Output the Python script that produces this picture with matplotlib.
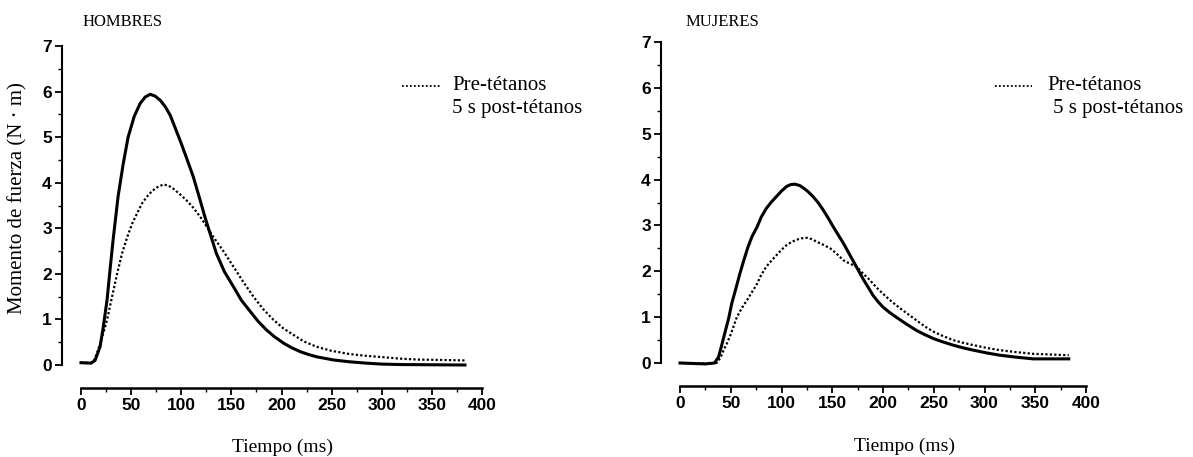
import matplotlib.pyplot as plt
from matplotlib.ticker import MultipleLocator

# HOMBRES (men)
men_t_post = [0, 10, 14, 19, 22, 26, 29, 32, 37, 42, 47, 53, 59, 64, 69, 74, 79, 84, 89,
              94, 100, 106, 112, 118, 124, 130, 135, 143, 152, 160, 169, 177, 185, 193,
              202, 210, 219, 227, 235, 252, 268, 285, 300, 318, 383]
men_post = [0.05, 0.04, 0.1, 0.4, 0.8, 1.43, 2.1, 2.74, 3.7, 4.4, 5.0, 5.45, 5.74, 5.88,
            5.94, 5.9, 5.81, 5.67, 5.48, 5.2, 4.86, 4.5, 4.13, 3.68, 3.22, 2.8, 2.45,
            2.05, 1.72, 1.42, 1.17, 0.95, 0.77, 0.62, 0.48, 0.38, 0.29, 0.23, 0.18,
            0.11, 0.07, 0.04, 0.02, 0.01, 0.0]
men_t_pre = [0, 10, 13, 16, 21, 26, 31, 36, 41, 46, 51, 56, 61, 66, 71, 76, 82, 87, 92,
             98, 105, 112, 119, 125, 132, 142, 152, 162, 172, 182, 192, 202, 212, 222,
             235, 250, 268, 285, 302, 318, 335, 360, 383]
men_pre = [0.05, 0.05, 0.1, 0.26, 0.6, 0.99, 1.5, 2.0, 2.45, 2.8, 3.1, 3.33, 3.55, 3.7,
           3.82, 3.9, 3.96, 3.94, 3.87, 3.76, 3.62, 3.45, 3.25, 3.05, 2.81, 2.5, 2.16,
           1.82, 1.5, 1.22, 0.99, 0.8, 0.66, 0.52, 0.4, 0.31, 0.24, 0.2, 0.17, 0.14,
           0.12, 0.11, 0.1]

# MUJERES (women)
wom_t_post = [0, 25, 34, 38, 41, 44, 48, 51, 55, 59, 63, 67, 71, 76, 80, 85, 90, 95, 100,
              105, 109, 113, 118, 122, 126, 131, 136, 141, 146, 151, 156, 161, 166, 171,
              176, 181, 186, 190, 195, 200, 206, 213, 223, 233, 241, 250, 259, 269, 279,
              289, 302, 315, 330, 348, 383]
wom_post = [0.0, -0.02, 0.0, 0.13, 0.38, 0.64, 0.98, 1.3, 1.62, 1.95, 2.25, 2.53, 2.76,
            2.97, 3.18, 3.37, 3.51, 3.63, 3.75, 3.85, 3.89, 3.9, 3.87, 3.81, 3.74, 3.63,
            3.5, 3.34, 3.16, 2.97, 2.79, 2.61, 2.41, 2.21, 2.01, 1.81, 1.63, 1.48, 1.34,
            1.22, 1.11, 1.0, 0.85, 0.71, 0.62, 0.53, 0.46, 0.39, 0.33, 0.28, 0.22, 0.17,
            0.13, 0.09, 0.09]
wom_t_pre = [0, 25, 36, 40, 43, 46, 49, 52, 56, 61, 66, 71, 76, 80, 85, 90, 95, 100, 105,
             110, 115, 120, 125, 130, 135, 141, 148, 154, 161, 167, 174, 180, 187, 193,
             200, 208, 217, 225, 233, 241, 250, 259, 269, 279, 289, 302, 315, 330, 348,
             383]
wom_pre = [0.0, -0.01, 0.0, 0.12, 0.28, 0.42, 0.57, 0.75, 1.0, 1.2, 1.37, 1.55, 1.73,
           1.92, 2.1, 2.23, 2.35, 2.47, 2.57, 2.64, 2.69, 2.72, 2.73, 2.7, 2.64, 2.58,
           2.5, 2.39, 2.24, 2.17, 2.1, 1.96, 1.81, 1.66, 1.51, 1.35, 1.19, 1.06, 0.93,
           0.8, 0.68, 0.59, 0.5, 0.44, 0.39, 0.33, 0.28, 0.24, 0.2, 0.17]

serif = ['Liberation Serif', 'DejaVu Serif']
sans = ['Liberation Sans Narrow', 'Liberation Sans', 'DejaVu Sans']

fig = plt.figure(figsize=(11.93, 4.57), dpi=100)
W, H = 1193, 457


def make_axes(x0, x1, ytop, ybot):
    ax = fig.add_axes([x0 / W, (H - ybot) / H, (x1 - x0) / W, (ybot - ytop) / H])
    ax.set_xlim(0, 400)
    ax.set_ylim(0, 7)
    for s in ['top', 'right']:
        ax.spines[s].set_visible(False)
    ax.spines['left'].set_position(('outward', 14))
    ax.spines['bottom'].set_position(('outward', 16.5))
    ax.spines['left'].set_linewidth(1.5)
    ax.spines['bottom'].set_linewidth(1.8)
    ax.xaxis.set_major_locator(MultipleLocator(50))
    ax.xaxis.set_minor_locator(MultipleLocator(25))
    ax.yaxis.set_major_locator(MultipleLocator(1))
    ax.yaxis.set_minor_locator(MultipleLocator(0.5))
    ax.tick_params(which='major', length=5, width=1.3, pad=2)
    ax.tick_params(which='minor', length=3, width=1)
    for lab in ax.get_xticklabels() + ax.get_yticklabels():
        lab.set_fontfamily(sans)
        lab.set_fontweight('bold')
        lab.set_fontsize(12.5)
    ax.patch.set_visible(False)
    return ax


def draw(ax, tp, yp, tq, yq):
    ax.plot(tp, yp, color='black', lw=2.2, clip_on=False, solid_joinstyle='round')
    ax.plot(tq, yq, color='black', lw=1.6, ls=(0, (1, 1)), clip_on=False)


ax1 = make_axes(81, 482, 46, 365)
draw(ax1, men_t_post, men_post, men_t_pre, men_pre)
ax2 = make_axes(680, 1086, 42, 363)
draw(ax2, wom_t_post, wom_post, wom_t_pre, wom_pre)

# titles
fig.text(83 / W, (H - 22) / H, 'HOMBRES', family=serif, fontsize=12, va='center')
fig.text(686 / W, (H - 22) / H, 'MUJERES', family=serif, fontsize=12, va='center')

# y label
fig.text(18 / W, (H - 198) / H, 'Momento de fuerza (N · m)', family=serif,
         fontsize=15, rotation=90, ha='center', va='center')

# x labels
fig.text(283 / W, (H - 447) / H, 'Tiempo (ms)', family=serif, fontsize=14,
         ha='center', va='center')
fig.text(904 / W, (H - 446) / H, 'Tiempo (ms)', family=serif, fontsize=14,
         ha='center', va='center')

# legends
fig.lines.append(plt.Line2D([402 / W, 440 / W], [(H - 86) / H] * 2, transform=fig.transFigure,
                            color='black', lw=1.3, ls=(0, (1, 1.2))))
fig.text(452 / W, (H - 85) / H, 'Pre-tétanos', family=serif, fontsize=15, va='center')
fig.text(452 / W, (H - 108) / H, '5 s post-tétanos', family=serif, fontsize=15, va='center')

fig.lines.append(plt.Line2D([995 / W, 1032 / W], [(H - 86) / H] * 2, transform=fig.transFigure,
                            color='black', lw=1.3, ls=(0, (1, 1.2))))
fig.text(1047 / W, (H - 85) / H, 'Pre-tétanos', family=serif, fontsize=15, va='center')
fig.text(1053 / W, (H - 108) / H, '5 s post-tétanos', family=serif, fontsize=15, va='center')

fig.savefig('out.png', dpi=100)
